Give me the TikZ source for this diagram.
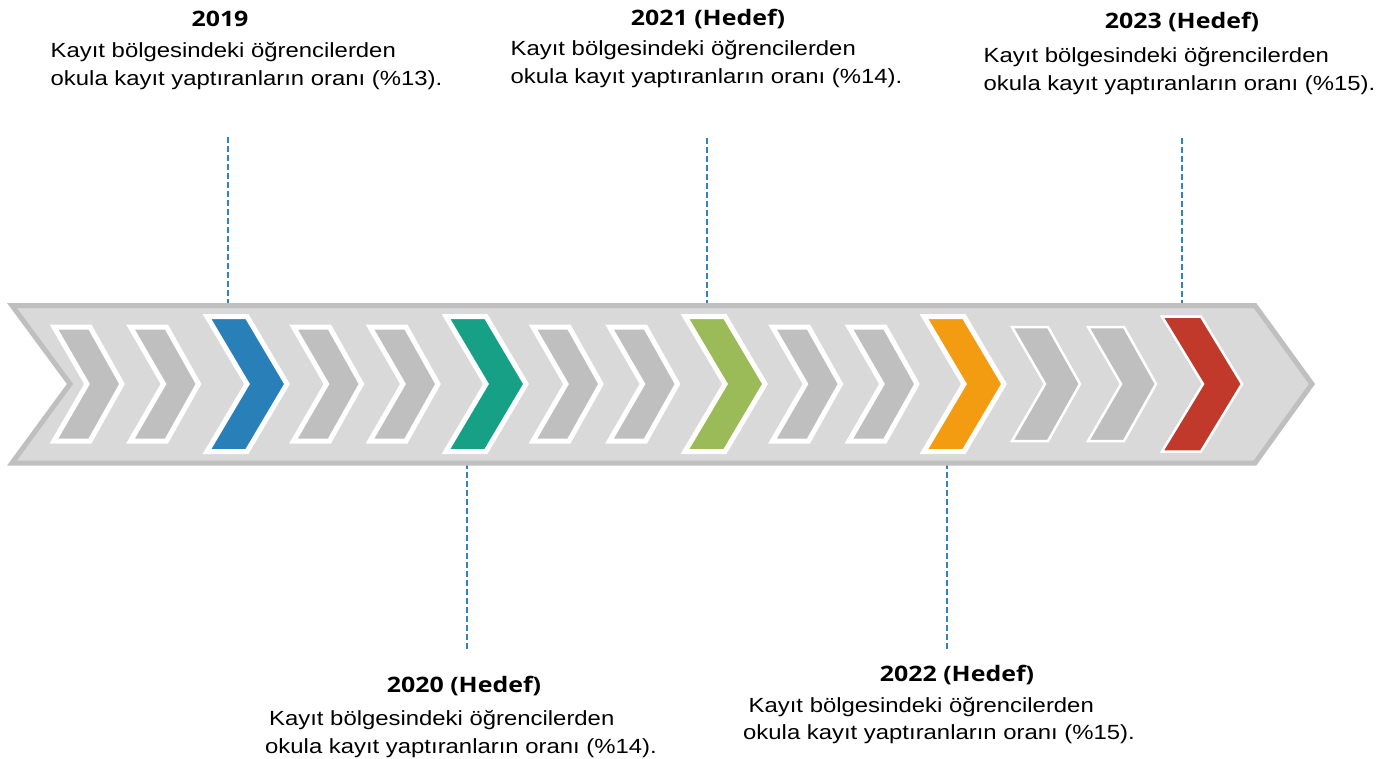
\documentclass[tikz,border=0pt]{standalone}
\usepackage{fontspec}
\setmainfont{Liberation Sans}[FakeStretch=1.165]
\newfontfamily\titlefont{Open Sans}[FakeStretch=1.17]
\definecolor{arrowfill}{HTML}{D9D9D9}
\definecolor{arrowline}{HTML}{BFBFBF}
\definecolor{chevgray}{HTML}{BFBFBF}
\definecolor{cblue}{HTML}{2980B9}
\definecolor{cteal}{HTML}{16A085}
\definecolor{cgreen}{HTML}{9BBB59}
\definecolor{corange}{HTML}{F39C12}
\definecolor{cred}{HTML}{C0392B}
\definecolor{dashblue}{HTML}{2E86C1}
\tikzset{
  bodytext/.style={anchor=base west, inner sep=0pt, font=\fontsize{20.5}{24}\selectfont},
  titletext/.style={anchor=base, inner sep=0pt, font=\titlefont\bfseries\fontsize{21.3}{24}\selectfont},
  leader/.style={draw=dashblue, line width=2.2pt, dash pattern=on 6pt off 3pt},
  bigarrow/.style={fill=arrowfill, draw=arrowline, line width=5pt},
  graychev/.style={fill=chevgray, draw=white, line width=5pt},
  graychevthin/.style={fill=chevgray, draw=white, line width=2.5pt},
  colchev/.style={fill=#1, draw=white, line width=5pt},
  colchevthin/.style={fill=#1, draw=white, line width=2.5pt}
}
\begin{document}
\begin{tikzpicture}[x=1pt,y=-1pt]
\fill[white] (0,0) rectangle (1387,758);
\useasboundingbox (0,0) rectangle (1387,758);

% leader line end points
\coordinate (t19) at (228,137);  \coordinate (a19) at (228,305);
\coordinate (t21) at (707,138);  \coordinate (a21) at (707,305);
\coordinate (t23) at (1182,138); \coordinate (a23) at (1182,305);
\coordinate (a20) at (467,463);  \coordinate (b20) at (467,652);
\coordinate (a22) at (947,463);  \coordinate (b22) at (947,652);
\draw[leader] (t19) -- (a19);
\draw[leader] (t21) -- (a21);
\draw[leader] (t23) -- (a23);
\draw[leader] (a20) -- (b20);
\draw[leader] (a22) -- (b22);

% big arrow
\draw[bigarrow] (12,305.5) -- (1255,305.5) -- (1312,384) -- (1255,463) -- (12,463) -- (70,384) -- cycle;

% gray chevrons
\foreach \k in {0,1,2,3} {
  \foreach \d in {0,76.5} {
    \pgfmathsetmacro\xo{54+239.5*\k+\d}
    \draw[graychev] (\xo,327) -- ++(36,0) -- ++(32,57) -- ++(-32,57) -- ++(-36,0) -- ++(33,-57) -- cycle;
  }
}
\foreach \xo in {1012,1088} {
  \draw[graychevthin] (\xo,327) -- ++(36,0) -- ++(32,57) -- ++(-32,57) -- ++(-36,0) -- ++(33,-57) -- cycle;
}

% coloured chevrons
\foreach \xo/\c in {207/cblue,446/cteal,685/cgreen,924/corange} {
  \draw[colchev=\c] (\xo,316.5) -- ++(40,0) -- ++(40,67.5) -- ++(-40,67.5) -- ++(-40,0) -- ++(40,-67.5) -- cycle;
}
\draw[colchevthin=cred] (1162,316.5) -- ++(39,0) -- ++(41,67.5) -- ++(-41,67.5) -- ++(-39,0) -- ++(41,-67.5) -- cycle;

% texts
\node[titletext] (h19) at (220,26) {2019};
\node[bodytext] (l19a) at (50.5,57) {Kayıt bölgesindeki öğrencilerden};
\node[bodytext] (l19b) at (50.5,85) {okula kayıt yaptıranların oranı (\%13).};

\node[titletext] (h21) at (708,25) {2021 (Hedef)};
\node[bodytext] (l21a) at (510.5,55) {Kayıt bölgesindeki öğrencilerden};
\node[bodytext] (l21b) at (510.5,83) {okula kayıt yaptıranların oranı (\%14).};

\node[titletext] (h23) at (1182,28) {2023 (Hedef)};
\node[bodytext] (l23a) at (983.5,62) {Kayıt bölgesindeki öğrencilerden};
\node[bodytext] (l23b) at (983.5,90) {okula kayıt yaptıranların oranı (\%15).};

\node[titletext] (h20) at (464,692) {2020 (Hedef)};
\node[bodytext] (l20a) at (269,725) {Kayıt bölgesindeki öğrencilerden};
\node[bodytext] (l20b) at (265,753) {okula kayıt yaptıranların oranı (\%14).};

\node[titletext] (h22) at (957,681) {2022 (Hedef)};
\node[bodytext] (l22a) at (748.5,712) {Kayıt bölgesindeki öğrencilerden};
\node[bodytext] (l22b) at (743,739) {okula kayıt yaptıranların oranı (\%15).};
\end{tikzpicture}
\end{document}
